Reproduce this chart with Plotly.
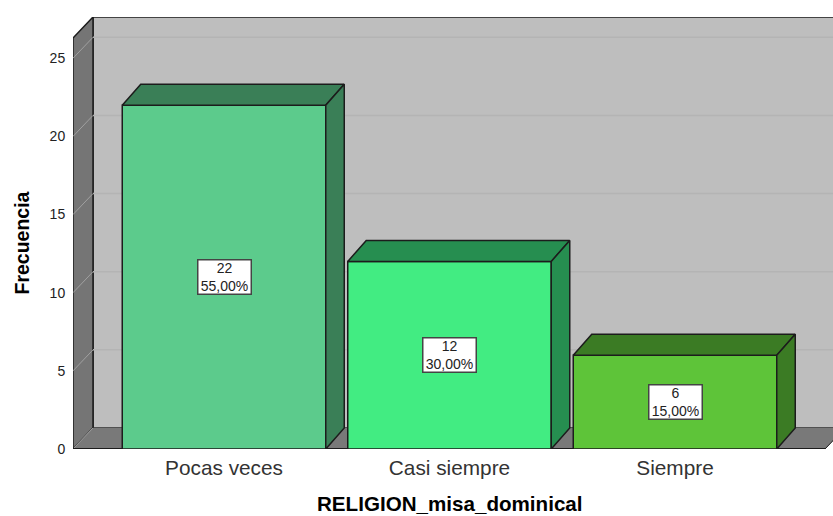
"""
Frecuencia de RELIGION_misa_dominical, barras con aspecto 3D
"""
import plotly.graph_objects as go

categorias = ['Pocas veces', 'Casi siempre', 'Siempre']
frecuencias = [22, 12, 6]
porcentajes = ['55,00%', '30,00%', '15,00%']
y_ticks = [0, 5, 10, 15, 20, 25]

colores_frente = ['#5CCB8C', '#42EC82', '#5EC439']
colores_lado = ['#3A7F57', '#268E50', '#3B7B24']
colores_arriba = ['#3A7F57', '#268E50', '#3B7B24']

# escalas en pixeles de la referencia
PX_Y = 15.63
PX_X = 225.5
ANCHO = 203.5 / PX_X
DX = 20 / PX_X
DY = 21 / PX_Y
DX_BARRA = 18.5 / PX_X
X_MIN = (73 - 224) / PX_X
X_MAX = (833 - 224) / PX_X
Y_MAX = (449 - 17) / PX_Y
X_FIN = (825 - 224) / PX_X
Y_TOPE = (449 - 38) / PX_Y
BORDE = '#1C1C1C'


def poligono(xs, ys, color, borde=BORDE, ancho=1.5):
    """Cierra un poligono como path de shape"""
    pts = ' L '.join(f'{x},{y}' for x, y in zip(xs, ys))
    return dict(type='path', path=f'M {pts} Z', xref='x', yref='y', layer='below',
                fillcolor=color, line=dict(color=borde, width=ancho))


shapes = [
    # pared del fondo, pared izquierda y piso
    poligono([X_MIN + DX, X_MAX + 1, X_MAX + 1, X_MIN + DX], [DY, DY, Y_MAX, Y_MAX], '#BEBEBE'),
    poligono([X_MIN, X_MIN + DX, X_MIN + DX, X_MIN], [0, DY, Y_MAX, Y_TOPE], '#757575'),
    poligono([X_MIN, X_FIN, X_FIN + DX, X_MIN + DX], [0, 0, DY, DY], '#797979', borde='#797979', ancho=0.5),
]
for v in y_ticks:
    if v > 0:
        shapes.append(dict(type='line', xref='x', yref='y', layer='below',
                           x0=X_MIN + DX, x1=X_MAX, y0=v + DY, y1=v + DY,
                           line=dict(color='#B4B4B4', width=1.5)))
    shapes.append(dict(type='line', xref='x', yref='y', layer='below',
                       x0=X_MIN, x1=X_MIN + DX, y0=v, y1=v + DY,
                       line=dict(color='#A0A0A0', width=1)))
# bordes del piso y eje izquierdo
shapes.append(dict(type='line', xref='x', yref='y', layer='below',
                   x0=X_MIN, x1=X_FIN, y0=0, y1=0, line=dict(color=BORDE, width=2)))
shapes.append(dict(type='line', xref='x', yref='y', layer='below',
                   x0=X_FIN, x1=X_FIN + DX, y0=0, y1=DY, line=dict(color=BORDE, width=1)))

fig = go.Figure()

fig.add_trace(go.Bar(
    x=list(range(len(categorias))),
    y=frecuencias,
    width=ANCHO,
    marker=dict(color=colores_frente, line=dict(color=BORDE, width=1.5)),
    hoverinfo='skip'
))

for i, valor in enumerate(frecuencias):
    izq = i - ANCHO / 2
    der = i + ANCHO / 2
    # cara superior
    fig.add_trace(go.Scatter(
        x=[izq, izq + DX_BARRA, der + DX_BARRA, der, izq],
        y=[valor, valor + DY, valor + DY, valor, valor],
        mode='lines', fill='toself', fillcolor=colores_arriba[i],
        line=dict(color=BORDE, width=1.5), hoverinfo='skip'
    ))
    # cara lateral
    fig.add_trace(go.Scatter(
        x=[der, der + DX_BARRA, der + DX_BARRA, der, der],
        y=[0, DY, valor + DY, valor, 0],
        mode='lines', fill='toself', fillcolor=colores_lado[i],
        line=dict(color=BORDE, width=1.5), hoverinfo='skip'
    ))

anotaciones = []
for i, valor in enumerate(frecuencias):
    anotaciones.append(dict(
        x=i, y=valor / 2, xref='x', yref='y', text=f'{valor}<br>{porcentajes[i]}', showarrow=False,
        width=52, height=33, borderpad=0, bgcolor='white',
        bordercolor='#444444', borderwidth=1.5,
        font=dict(size=14, color='#222222')
    ))

# las coordenadas paper van referidas al area del grafico
anotaciones.append(dict(
    x=(21 - 73) / 760, y=1 - (243.5 - 17) / 432, xref='paper', yref='paper',
    xanchor='center', yanchor='middle',
    text='<b>Frecuencia</b>', textangle=-90, showarrow=False,
    font=dict(size=19.5, color='black')
))
anotaciones.append(dict(
    x=(449.5 - 73) / 760, y=1 - (503 - 17) / 432, xref='paper', yref='paper',
    xanchor='center', yanchor='middle',
    text='<b>RELIGION_misa_dominical</b>', showarrow=False,
    font=dict(size=20.6, color='black')
))

fig.update_layout(
    width=833,
    height=516,
    margin=dict(l=73, r=0, t=17, b=67),
    paper_bgcolor='white',
    plot_bgcolor='white',
    showlegend=False,
    font=dict(family='Liberation Sans', color='#222222'),
    shapes=shapes,
    annotations=anotaciones,
    xaxis=dict(
        range=[X_MIN, X_MAX], tickmode='array', tickvals=list(range(len(categorias))),
        ticktext=categorias, tickfont=dict(size=20.8, color='#333333'),
        showgrid=False, zeroline=False, showline=False,
        ticks='outside', ticklen=0, tickcolor='rgba(0,0,0,0)'
    ),
    yaxis=dict(
        range=[0, Y_MAX], tickmode='array', tickvals=y_ticks,
        tickfont=dict(size=14, color='#222222'),
        showgrid=False, zeroline=False, showline=False,
        ticks='outside', ticklen=4, tickcolor='rgba(0,0,0,0)'
    )
)

fig.write_html("out.html", config={'displayModeBar': False},
               post_script="document.body.style.margin = '0';")
